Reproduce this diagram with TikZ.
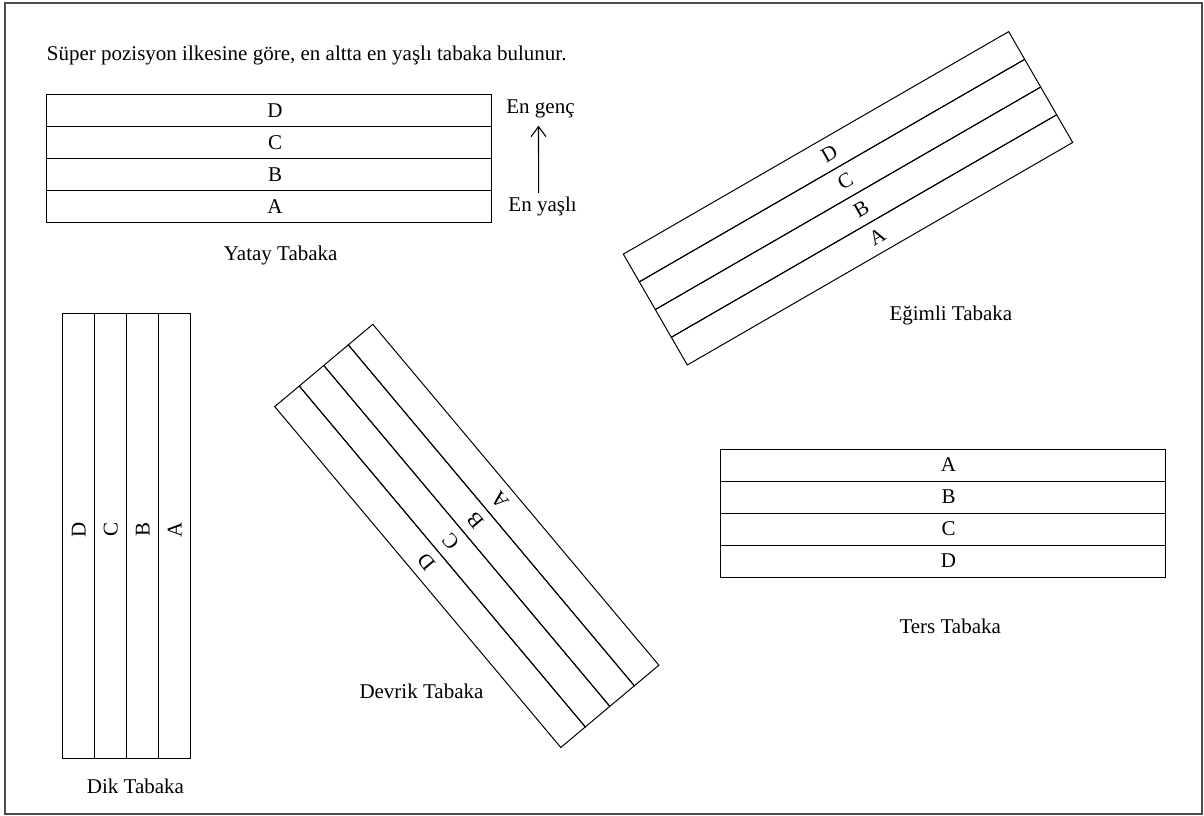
\documentclass[tikz,border=0pt]{standalone}
\usepackage{fontspec}
\setmainfont{Liberation Serif}
\usepackage{tikz}
\usetikzlibrary{arrows.meta,positioning}

\begin{document}
\begin{tikzpicture}[
  x=1pt, y=1pt,
  font=\fontsize{21}{25}\selectfont,
  layer/.style={draw, line width=1pt, minimum width=445pt, minimum height=32pt, inner sep=0pt},
  lbl/.style={inner sep=0pt},
  txt/.style={inner sep=0pt, anchor=base west},
  arr/.style={-{Straight Barb[length=10pt,width=15pt]}, line width=1.1pt},
  frame/.style={draw=black!70, line width=1.5pt},
]
\useasboundingbox (0,0) rectangle (1204,-816);
\draw[frame] (5,-3) rectangle (1202,-814);

% stacks: name / centre x / centre y / angle / layers from top
\foreach \nm/\cx/\cy/\ang/\seq in {yat/269/158.2/0/{D,C,B,A}, ter/942.5/513/0/{A,B,C,D},
    egi/848/198.3/30/{D,C,B,A}, dik/126.7/535.8/90/{D,C,B,A}, dev/466.8/535.9/130/{D,C,B,A}}{
  \begin{scope}[shift={(\cx,-\cy)}, rotate=\ang, transform shape]
    \foreach \l [count=\i] in \seq {
      \node[layer] (\nm\l) at (0,80-32*\i) {};
      \node[lbl] (\nm\l-t) at (6,80-32*\i) {\l};
    }
  \end{scope}
}

\node[txt] (title) at (46.7,-61) {Süper pozisyon ilkesine göre, en altta en yaşlı tabaka bulunur.};
\node[txt, anchor=base] (genc) at (540.5,-113) {En genç};
\node[txt, anchor=base] (yasli) at (542.6,-211.7) {En yaşlı};
\draw[arr] ([xshift=-4pt,yshift=4pt]yasli.north) -- ([xshift=-2pt,yshift=-8pt]genc.south);

\node[txt] (yatcap) at (223.7,-260) {Yatay Tabaka};
\node[txt] (egicap) at (889.3,-320) {Eğimli Tabaka};
\node[txt] (tercap) at (899.3,-633.3) {Ters Tabaka};
\node[txt] (devcap) at (359.3,-698.3) {Devrik Tabaka};
\node[txt] (dikcap) at (86.7,-793) {Dik Tabaka};
\end{tikzpicture}
\end{document}
